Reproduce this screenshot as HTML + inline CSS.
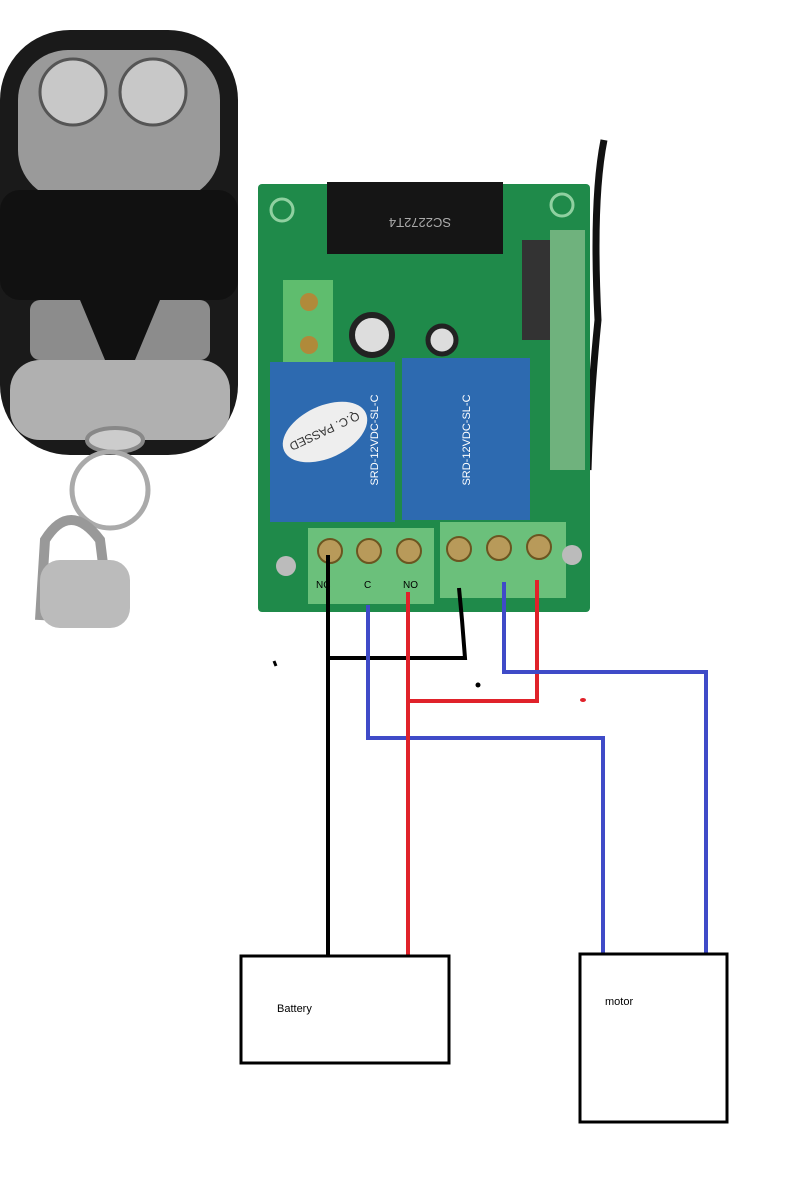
<!DOCTYPE html>
<html><head><meta charset="utf-8"><style>
html,body{margin:0;padding:0;background:#fff;width:806px;height:1200px;overflow:hidden}
svg{display:block}
text{font-family:"Liberation Sans",sans-serif}
</style></head><body>
<svg width="806" height="1200" viewBox="0 0 806 1200" xmlns="http://www.w3.org/2000/svg">
<!-- remote -->
<rect x="0" y="30" width="238" height="425" rx="70" fill="#1a1a1a"/>
<rect x="18" y="50" width="202" height="150" rx="50" fill="#9a9a9a"/>
<circle cx="73" cy="92" r="33" fill="#c8c8c8" stroke="#555" stroke-width="3"/>
<circle cx="153" cy="92" r="33" fill="#c8c8c8" stroke="#555" stroke-width="3"/>
<rect x="0" y="190" width="238" height="110" rx="20" fill="#111"/>
<rect x="30" y="300" width="180" height="60" rx="10" fill="#8c8c8c"/>
<path d="M80 300 L160 300 L135 360 L105 360 Z" fill="#111"/>
<rect x="10" y="360" width="220" height="80" rx="30" fill="#b0b0b0"/>
<ellipse cx="115" cy="440" rx="28" ry="12" fill="#ccc" stroke="#888" stroke-width="4"/>
<circle cx="110" cy="490" r="38" fill="none" stroke="#aaa" stroke-width="5"/>
<path d="M40 620 L45 540 Q70 500 100 540 L110 620" fill="none" stroke="#999" stroke-width="10"/>
<rect x="40" y="560" width="90" height="68" rx="20" fill="#bbb"/>
<!-- antenna -->
<path d="M604 140 Q592 200 598 320 Q590 400 588 470" fill="none" stroke="#111" stroke-width="7"/>
<!-- board -->
<rect x="258" y="184" width="332" height="428" rx="4" fill="#1f8a4a"/>
<circle cx="282" cy="210" r="11" fill="none" stroke="#8fd0a0" stroke-width="3"/>
<circle cx="562" cy="205" r="11" fill="none" stroke="#8fd0a0" stroke-width="3"/>
<rect x="327" y="182" width="176" height="72" fill="#151515"/>
<text x="420" y="226" font-size="13" fill="#aaa" text-anchor="middle" transform="rotate(180 420 222)">SC2272T4</text>
<rect x="522" y="240" width="40" height="100" fill="#333"/>
<rect x="550" y="230" width="35" height="240" fill="#6fb27d"/>
<rect x="283" y="280" width="50" height="85" fill="#5fbd6e"/>
<circle cx="309" cy="302" r="9" fill="#b08a3a"/><circle cx="309" cy="345" r="9" fill="#b08a3a"/>
<circle cx="372" cy="335" r="20" fill="#ddd" stroke="#222" stroke-width="6"/>
<circle cx="442" cy="340" r="14" fill="#ddd" stroke="#222" stroke-width="5"/>
<rect x="270" y="362" width="125" height="160" fill="#2d6ab0"/>
<rect x="402" y="358" width="128" height="162" fill="#2d6ab0"/>
<text x="378" y="440" font-size="11" fill="#fff" text-anchor="middle" transform="rotate(-90 378 440)">SRD-12VDC-SL-C</text>
<ellipse cx="325" cy="432" rx="45" ry="26" fill="#eee" transform="rotate(-25 325 432)"/>
<text x="325" y="437" font-size="12" fill="#333" text-anchor="middle" transform="rotate(155 325 432)">Q.C. PASSED</text>
<text x="470" y="440" font-size="11" fill="#fff" text-anchor="middle" transform="rotate(-90 470 440)">SRD-12VDC-SL-C</text>
<rect x="308" y="528" width="126" height="76" fill="#6bc07b"/>
<rect x="440" y="522" width="126" height="76" fill="#6bc07b"/>
<g fill="#b89a5a" stroke="#6b5520" stroke-width="2">
<circle cx="330" cy="551" r="12"/><circle cx="369" cy="551" r="12"/><circle cx="409" cy="551" r="12"/>
<circle cx="459" cy="549" r="12"/><circle cx="499" cy="548" r="12"/><circle cx="539" cy="547" r="12"/></g>
<circle cx="286" cy="566" r="10" fill="#bbb"/><circle cx="572" cy="555" r="10" fill="#bbb"/>
<text x="316" y="588" font-size="10" fill="#000">NC</text>
<text x="364" y="588" font-size="10" fill="#000">C</text>
<text x="403" y="588" font-size="10" fill="#000">NO</text>
<!-- wires -->
<g fill="none" stroke-width="4" stroke-linejoin="miter">
<polyline points="328,555 328,955" stroke="#000"/>
<polyline points="328,658 465,658 462,620 459,588" stroke="#000"/>
<polyline points="368,605 368,738 603,738 603,955" stroke="#3f4bc8"/>
<polyline points="408,592 408,955" stroke="#e0222a"/>
<polyline points="408,701 537,701 537,580" stroke="#e0222a"/>
<polyline points="504,582 504,672 706,672 706,955" stroke="#3f4bc8"/>
</g>
<circle cx="478" cy="685" r="2.5" fill="#000"/>
<ellipse cx="583" cy="700" rx="3" ry="2" fill="#e0222a"/>
<path d="M274 661 L276 666" stroke="#000" stroke-width="3"/>
<!-- boxes -->
<rect x="241" y="956" width="208" height="107" fill="none" stroke="#000" stroke-width="3"/>
<text x="277" y="1012" font-size="11" fill="#000">Battery</text>
<rect x="580" y="954" width="147" height="168" fill="none" stroke="#000" stroke-width="3"/>
<text x="605" y="1005" font-size="11" fill="#000">motor</text>
</svg>
</body></html>
